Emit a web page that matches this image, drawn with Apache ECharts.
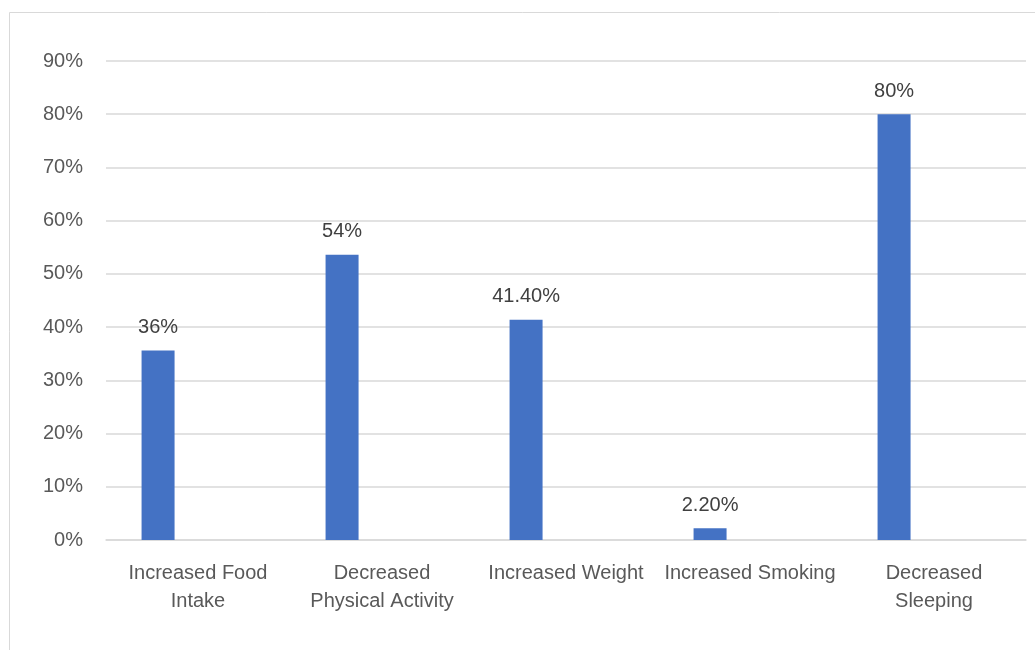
<!DOCTYPE html>
<html>
<head>
<meta charset="utf-8">
<script src="https://cdn.jsdelivr.net/npm/echarts@6/dist/echarts.min.js"></script>
<style>
  html, body { margin: 0; padding: 0; background: #fff; }
  #chart { width: 1035px; height: 650px; }
</style>
</head>
<body>
<div id="chart"></div>
<script>
// categories on the x axis
const categories = [
  'Increased Food\nIntake',
  'Decreased\nPhysical Activity',
  'Increased Weight',
  'Increased Smoking',
  'Decreased\nSleeping'
];
// bar heights in percent
const values = [35.6, 53.6, 41.4, 2.2, 80];
// data label texts as printed on the chart
const valueLabels = ['36%', '54%', '41.40%', '2.20%', '80%'];
// empty second series (keeps bars offset left like the original)
const emptySeries = [null, null, null, null, null];

const font = 'Liberation Sans';
const chart = echarts.init(document.getElementById('chart'));

const option = {
  backgroundColor: '#fff',
  animation: false,
  graphic: [{
    type: 'rect',
    shape: { x: 9.5, y: 12.5, width: 1100, height: 700 },
    style: { fill: 'none', stroke: '#d9d9d9', lineWidth: 1 },
    silent: true
  }],
  grid: { left: 106, right: 9, top: 61, bottom: 110 },
  xAxis: {
    type: 'category',
    data: categories,
    axisTick: { show: false },
    axisLine: { lineStyle: { color: '#d9d9d9', width: 1.5 } },
    axisLabel: {
      interval: 0,
      color: '#595959',
      fontFamily: font,
      fontSize: 20,
      lineHeight: 28,
      margin: 19
    }
  },
  yAxis: {
    type: 'value',
    min: 0,
    max: 90,
    interval: 10,
    axisLine: { show: false },
    axisTick: { show: false },
    splitLine: { lineStyle: { color: '#d9d9d9', width: 1.5 } },
    axisLabel: {
      formatter: '{value}%',
      color: '#595959',
      fontFamily: font,
      fontSize: 20,
      margin: 23
    }
  },
  series: [{
    name: 'Series1',
    type: 'bar',
    data: values,
    barWidth: 33,
    barGap: '142%',
    itemStyle: { color: '#4472C4' },
    label: {
      show: true,
      position: 'top',
      distance: 13,
      color: '#404040',
      fontFamily: font,
      fontSize: 20,
      formatter: p => valueLabels[p.dataIndex]
    }
  }, {
    name: 'Series2',
    type: 'bar',
    data: emptySeries,
    barWidth: 33,
    itemStyle: { color: '#ED7D31' }
  }]
};

chart.setOption(option);
window.addEventListener('resize', () => chart.resize());
</script>
</body>
</html>
